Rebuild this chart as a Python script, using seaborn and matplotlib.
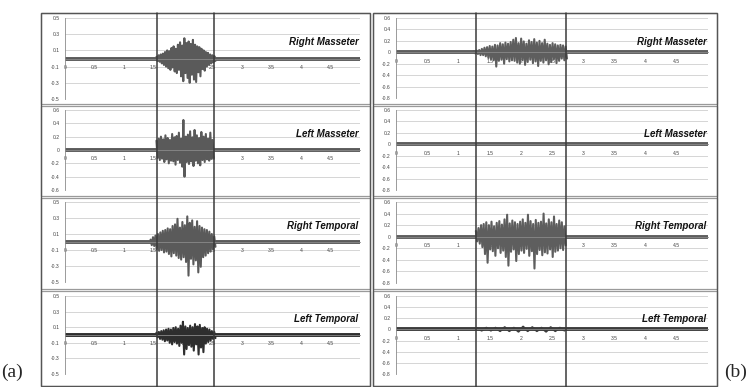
import numpy as np
import matplotlib
matplotlib.use('Agg')
import matplotlib.pyplot as plt
import matplotlib.transforms as mtransforms
from matplotlib.patches import Rectangle
from matplotlib.lines import Line2D
import seaborn as sns

sns.set_style('white')
plt.rcParams['font.family'] = ['Liberation Sans', 'DejaVu Sans']

# ---- data ----
channels = ['Right Masseter', 'Left Masseter', 'Right Temporal', 'Left Temporal']

x_ticks = [0, 0.5, 1, 1.5, 2, 2.5, 3, 3.5, 4, 4.5]
x_labels = ['0', '0.5', '1', '1.5', '2', '2.5', '3', '3.5', '4', '4.5']

odd_ticks = [-0.5, -0.3, -0.1, 0.1, 0.3, 0.5]
odd_labels = ['-0.5', '-0.3', '-0.1', '0.1', '0.3', '0.5']
even6_ticks = [-0.6, -0.4, -0.2, 0, 0.2, 0.4, 0.6]
even6_labels = ['-0.6', '-0.4', '-0.2', '0', '0.2', '0.4', '0.6']
b_ticks = [-0.8, -0.6, -0.4, -0.2, 0, 0.2, 0.4, 0.6]
b_labels = ['-0.8', '-0.6', '-0.4', '-0.2', '0', '0.2', '0.4', '0.6']

# event markers (s)
a_marks = [1.56, 2.53]
b_marks = [1.28, 2.72]

# burst windows (s) and sample amplitudes
a_rm_span = (1.55, 2.55)
a_rm = [0.02, -0.03, 0.04, -0.04, 0.05, -0.06, 0.06, -0.08, 0.08, -0.10, 0.10, -0.12, 0.09, -0.14,
        0.13, -0.11, 0.15, -0.16, 0.12, -0.18, 0.17, -0.14, 0.20, -0.22, 0.16, -0.28, 0.25, -0.18,
        0.19, -0.24, 0.21, -0.30, 0.18, -0.20, 0.23, -0.26, 0.17, -0.29, 0.15, -0.17, 0.14, -0.22,
        0.12, -0.13, 0.10, -0.15, 0.08, -0.10, 0.07, -0.08, 0.05, -0.06, 0.04, -0.05, 0.03, -0.03]

a_lm_span = (1.55, 2.52)
a_lm = [0.14, -0.12, 0.17, -0.15, 0.20, -0.13, 0.16, -0.18, 0.22, -0.14, 0.18, -0.20, 0.15, -0.16,
        0.24, -0.17, 0.19, -0.22, 0.21, -0.15, 0.26, -0.19, 0.17, -0.25, 0.45, -0.40, 0.20, -0.18,
        0.23, -0.21, 0.28, -0.17, 0.19, -0.24, 0.30, -0.16, 0.22, -0.20, 0.18, -0.23, 0.27, -0.15,
        0.20, -0.18, 0.24, -0.14, 0.17, -0.16, 0.26, -0.13, 0.15, -0.12]

a_rt_span = (1.45, 2.55)
a_rt = [0.03, -0.04, 0.06, -0.05, 0.08, -0.09, 0.10, -0.11, 0.12, -0.10, 0.14, -0.13, 0.15, -0.12,
        0.17, -0.15, 0.16, -0.18, 0.20, -0.14, 0.22, -0.17, 0.29, -0.20, 0.18, -0.22, 0.25, -0.19,
        0.21, -0.25, 0.32, -0.42, 0.24, -0.21, 0.27, -0.28, 0.19, -0.23, 0.26, -0.38, 0.20, -0.31,
        0.18, -0.19, 0.16, -0.17, 0.15, -0.14, 0.13, -0.12, 0.10, -0.09, 0.07, -0.06]

a_lt_span = (1.55, 2.55)
a_lt = [0.03, -0.03, 0.04, -0.05, 0.05, -0.06, 0.06, -0.08, 0.07, -0.07, 0.08, -0.10, 0.07, -0.12,
        0.09, -0.09, 0.10, -0.11, 0.08, -0.14, 0.12, -0.10, 0.17, -0.25, 0.11, -0.18, 0.09, -0.13,
        0.12, -0.15, 0.10, -0.20, 0.14, -0.12, 0.11, -0.25, 0.13, -0.16, 0.09, -0.22, 0.10, -0.11,
        0.08, -0.09, 0.07, -0.07, 0.05, -0.05, 0.04, -0.04]

b_rm_span = (1.25, 2.74)
b_rm = [0.02, -0.02, 0.03, -0.03, 0.04, -0.05, 0.06, -0.05, 0.08, -0.07, 0.09, -0.10, 0.11, -0.12,
        0.10, -0.14, 0.13, -0.25, 0.12, -0.15, 0.16, -0.13, 0.14, -0.20, 0.17, -0.12, 0.15, -0.16,
        0.18, -0.14, 0.22, -0.15, 0.25, -0.18, 0.16, -0.20, 0.24, -0.14, 0.19, -0.22, 0.15, -0.17,
        0.21, -0.13, 0.18, -0.19, 0.23, -0.16, 0.17, -0.24, 0.20, -0.15, 0.16, -0.18, 0.22, -0.14,
        0.15, -0.21, 0.13, -0.17, 0.16, -0.12, 0.14, -0.19, 0.12, -0.15, 0.13, -0.11, 0.12, -0.14,
        0.10, -0.11]

b_lm_span = None
b_lm = []

b_rt_span = (1.28, 2.72)
b_rt = [0.10, -0.08, 0.15, -0.12, 0.20, -0.18, 0.22, -0.30, 0.25, -0.45, 0.20, -0.22, 0.26, -0.25,
        0.18, -0.33, 0.24, -0.20, 0.27, -0.28, 0.21, -0.24, 0.30, -0.35, 0.38, -0.50, 0.23, -0.26,
        0.28, -0.22, 0.25, -0.42, 0.22, -0.30, 0.26, -0.24, 0.30, -0.28, 0.24, -0.21, 0.38, -0.33,
        0.27, -0.25, 0.22, -0.55, 0.29, -0.30, 0.24, -0.23, 0.26, -0.32, 0.40, -0.27, 0.23, -0.29,
        0.30, -0.22, 0.25, -0.35, 0.35, -0.26, 0.22, -0.24, 0.28, -0.20, 0.25, -0.23, 0.18, -0.15]

b_lt_span = (1.3, 2.7)
b_lt = [0.02, -0.02, 0.03, -0.02, 0.03, -0.03, 0.04, -0.03, 0.03, -0.04, 0.05, -0.03, 0.04, -0.03,
        0.03, -0.04, 0.04, -0.03, 0.03, -0.02]

# ---- layout (pixels) ----
W, H = 748, 387
fig = plt.figure(figsize=(W / 100, H / 100), dpi=100)


def fig_box(l, t, r, b):
    return [l / W, 1 - b / H, (r - l) / W, (b - t) / H]


cell_rows = [(13, 104), (106, 196), (198, 289), (291, 386)]
a_rows = [(18, 99), (110, 190), (202, 282), (296, 374)]
b_rows = [(18, 98), (110, 190), (202, 283), (296, 374)]

panels = [
    dict(cell_x=(41, 370), ax_x=(65, 360), rows=a_rows, marks=a_marks,
         sigs=[(a_rm_span, a_rm), (a_lm_span, a_lm), (a_rt_span, a_rt), (a_lt_span, a_lt)],
         ticks=[(odd_ticks, odd_labels), (even6_ticks, even6_labels),
                (odd_ticks, odd_labels), (odd_ticks, odd_labels)],
         colors=['#5a5a5a', '#5a5a5a', '#5a5a5a', '#2e2e2e']),
    dict(cell_x=(373, 717), ax_x=(396, 708), rows=b_rows, marks=b_marks,
         sigs=[(b_rm_span, b_rm), (b_lm_span, b_lm), (b_rt_span, b_rt), (b_lt_span, b_lt)],
         ticks=[(b_ticks, b_labels)] * 4,
         colors=['#5e5e5e', '#5e5e5e', '#5e5e5e', '#3c3c3c']),
]

for p in panels:
    cx0, cx1 = p['cell_x']
    # chart cell borders
    for (t, b) in cell_rows:
        fig.add_artist(Rectangle((cx0 / W, 1 - b / H), (cx1 - cx0) / W, (b - t) / H,
                                 transform=fig.transFigure, fill=False,
                                 edgecolor='#9a9a9a', lw=0.9))
    fig.add_artist(Rectangle((cx0 / W, 1 - 386 / H), (cx1 - cx0) / W, 373 / H,
                             transform=fig.transFigure, fill=False,
                             edgecolor='#555555', lw=1.0))

    axes = []
    for i, name in enumerate(channels):
        t, b = p['rows'][i]
        ax = fig.add_axes(fig_box(p['ax_x'][0], t, p['ax_x'][1], b))
        ax.patch.set_alpha(0)
        yt, yl = p['ticks'][i]
        color = p['colors'][i]
        for y in yt:
            ax.axhline(y, color='#cfcfcf', lw=0.6, zorder=0)
        # resting baseline noise band
        sns.lineplot(x=[0, 5], y=[0, 0], ax=ax, color=color, lw=2.8,
                     estimator=None, sort=False)
        span, vals = p['sigs'][i]
        if vals:
            tt = np.linspace(span[0], span[1], len(vals))
            sns.lineplot(x=tt, y=vals, ax=ax, color=color, lw=1.5,
                         estimator=None, sort=False)
        ax.set_xlim(0, 5)
        ax.set_ylim(yt[0], yt[-1])
        ax.set_yticks(yt)
        ax.set_yticklabels(yl)
        ax.set_xticks(x_ticks)
        ax.set_xticklabels(x_labels)
        ax.set_xlabel('')
        ax.set_ylabel('')
        for s in ['top', 'right']:
            ax.spines[s].set_visible(False)
        ax.spines['left'].set_color('#8a8a8a')
        ax.spines['left'].set_linewidth(0.6)
        ax.spines['bottom'].set_position(('data', 0))
        ax.spines['bottom'].set_color('#8a8a8a')
        ax.spines['bottom'].set_linewidth(0.6)
        ax.tick_params(axis='y', which='major', labelsize=3.6, length=2, width=0.5,
                       direction='out', pad=2, colors='#8a8a8a', labelcolor='#444444')
        ax.tick_params(axis='x', which='major', labelsize=3.6, length=3, width=0.5,
                       direction='inout', pad=3, colors='#8a8a8a', labelcolor='#444444')
        ax.text(0.995, 0.70, name, transform=ax.transAxes, ha='right', va='center',
                fontsize=7, fontweight='bold', style='italic', color='#111111')
        axes.append(ax)

    # event markers across the whole column of charts
    tr = mtransforms.blended_transform_factory(axes[0].transData, fig.transFigure)
    for m in p['marks']:
        fig.add_artist(Line2D([m, m], [1 - 13 / H, 1 - 387 / H], transform=tr,
                              color='#3a3a3a', lw=1.1, zorder=10))

fig.text(1 / W, 1 - 372 / H, '(a)', ha='left', va='center', fontsize=14,
         family=['Liberation Serif', 'DejaVu Serif'])
fig.text(747 / W, 1 - 372 / H, '(b)', ha='right', va='center', fontsize=14,
         family=['Liberation Serif', 'DejaVu Serif'])

fig.savefig('out.png', dpi=100, facecolor='white')
